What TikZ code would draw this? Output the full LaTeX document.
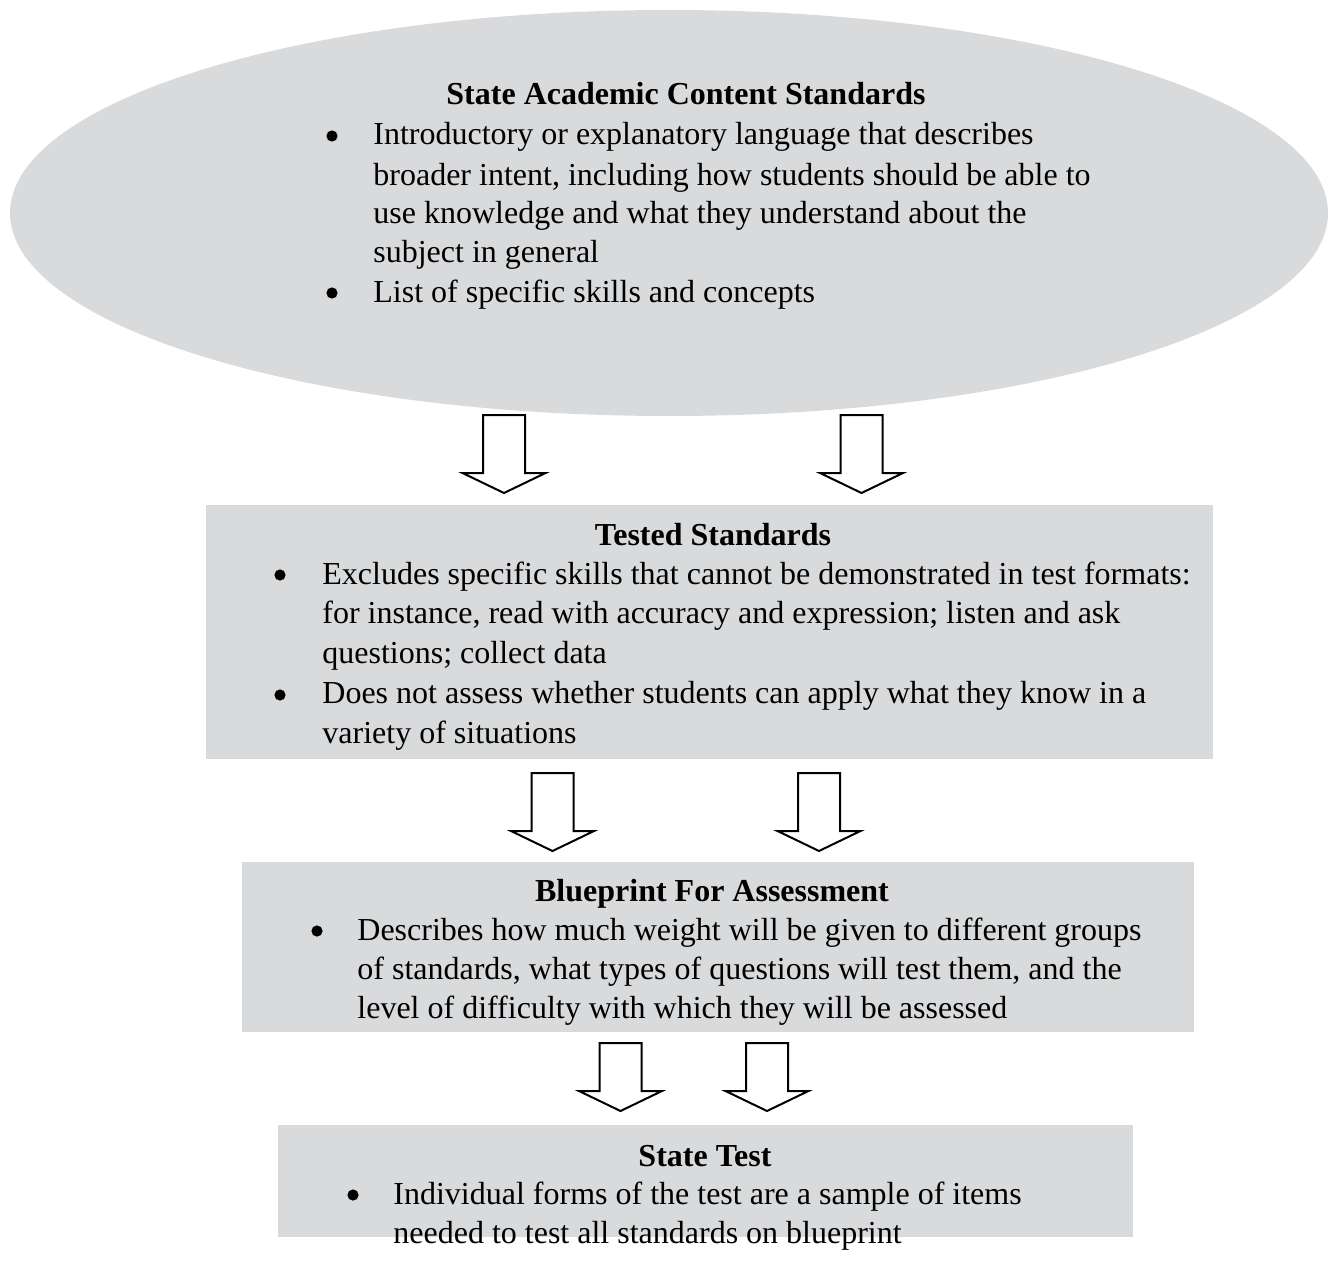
\documentclass[tikz,border=0pt]{standalone}
\usepackage{fontspec}
\setmainfont{Liberation Serif}
\usetikzlibrary{calc}
\definecolor{panel}{RGB}{217,218,220}
\newcommand\blkarrow[2]{%
  \draw[blockarrow] ($(#1)+(-21,0)$) -- ($(#1)+(21,0)$) -- ($(#2)+(21,-20)$)
    -- ($(#2)+(41.5,-20)$) -- (#2) -- ($(#2)+(-41.5,-20)$) -- ($(#2)+(-21,-20)$) -- cycle;}
\begin{document}
\begin{tikzpicture}[x=0.5pt,y=-0.5pt,
  panelfill/.style={fill=panel,draw=none},
  txt/.style={inner sep=0pt,anchor=base west,font=\fontsize{16}{20}\selectfont},
  ttl/.style={inner sep=0pt,anchor=base,font=\fontsize{16}{20}\selectfont\bfseries},
  bul/.style={circle,fill=black,inner sep=0pt,minimum size=5.6pt},
  blockarrow/.style={draw=black,fill=white,line width=1pt,line join=miter}]
\useasboundingbox (0,0) rectangle (1335,1263);

% shapes
\fill[panel] (669,213) ellipse [x radius=659, y radius=203];
\path[panelfill] (206,505) rectangle (1213,759);
\path[panelfill] (242,862) rectangle (1194,1032);
\path[panelfill] (278,1125) rectangle (1133,1237);

% ellipse text
\node[ttl] (t0) at (686,105) {State Academic Content Standards};
\node[bul] (b01) at (332,136) {};
\node[txt] (l01) at (373,145) {Introductory or explanatory language that describes};
\node[txt] (l02) at (373,185) {broader intent, including how students should be able to};
\node[txt] (l03) at (373,224) {use knowledge and what they understand about the};
\node[txt] (l04) at (373,263) {subject in general};
\node[bul] (b02) at (332,293) {};
\node[txt] (l05) at (373,302) {List of specific skills and concepts};

% box 1
\node[ttl] (t1) at (713,545) {Tested Standards};
\node[bul] (b11) at (280,575) {};
\node[txt] (l11) at (322,584) {Excludes specific skills that cannot be demonstrated in test formats:};
\node[txt] (l12) at (322,623) {for instance, read with accuracy and expression; listen and ask};
\node[txt] (l13) at (322,663) {questions; collect data};
\node[bul] (b12) at (280,695) {};
\node[txt] (l14) at (322,703) {Does not assess whether students can apply what they know in a};
\node[txt] (l15) at (322,743) {variety of situations};

% box 2
\node[ttl] (t2) at (712,901) {Blueprint For Assessment};
\node[bul] (b21) at (317,931) {};
\node[txt] (l21) at (357,940) {Describes how much weight will be given to different groups};
\node[txt] (l22) at (357,979) {of standards, what types of questions will test them, and the};
\node[txt] (l23) at (357,1018) {level of difficulty with which they will be assessed};

% box 3
\node[ttl] (t3) at (705,1166) {State Test};
\node[bul] (b31) at (353,1195) {};
\node[txt] (l31) at (393,1204) {Individual forms of the test are a sample of items};
\node[txt] (l32) at (393,1243) {needed to test all standards on blueprint};

% arrows
\coordinate (a1t) at (504,415);   \coordinate (a1h) at (504,493);
\coordinate (a2t) at (861.5,415); \coordinate (a2h) at (861.5,493);
\coordinate (a3t) at (552.5,773); \coordinate (a3h) at (552.5,851);
\coordinate (a4t) at (819,773);   \coordinate (a4h) at (819,851);
\coordinate (a5t) at (620.5,1043);\coordinate (a5h) at (620.5,1111);
\coordinate (a6t) at (767,1043);  \coordinate (a6h) at (767,1111);
\blkarrow{a1t}{a1h}
\blkarrow{a2t}{a2h}
\blkarrow{a3t}{a3h}
\blkarrow{a4t}{a4h}
\blkarrow{a5t}{a5h}
\blkarrow{a6t}{a6h}
\end{tikzpicture}
\end{document}
